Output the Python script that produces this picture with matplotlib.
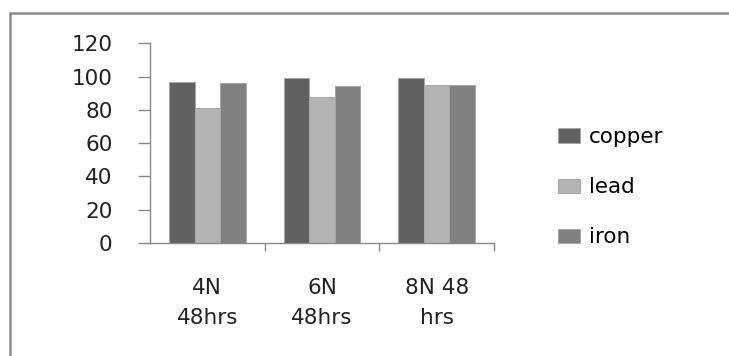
import numpy as np
import matplotlib
matplotlib.use("Agg")
import matplotlib.pyplot as plt
from matplotlib.patches import Rectangle

# -----------------------------
# Data
# -----------------------------
categories = ["4N\n48hrs", "6N\n48hrs", "8N 48\nhrs"]
copper = [97, 99, 99]
lead = [81, 87.5, 95]
iron = [96, 94.5, 95]
series_names = ["copper", "lead", "iron"]
colors = ["#616161", "#b3b3b3", "#808080"]

plt.rcParams['font.family'] = ['DejaVu Sans']

fig = plt.figure(figsize=(7.29, 3.56), dpi=100)
ax = fig.add_axes([0.2058, 0.3174, 0.4718, 0.5607])

# -----------------------------
# Bars
# -----------------------------
x = np.arange(len(categories))
w = 0.223
for i, (vals, name, c) in enumerate(zip([copper, lead, iron], series_names, colors)):
    ax.bar(x + (i - 1) * w, vals, width=w, color=c, edgecolor="#a8a8a8",
           linewidth=0.7, label=name)

ax.set_xlim(-0.5, len(categories) - 0.5)
ax.set_ylim(0, 120)
ax.set_yticks(range(0, 121, 20))

# category labels centred, tick marks at the boundaries
ax.set_xticks(x)
ax.set_xticklabels(categories, fontsize=15.5, color="#222222", linespacing=1.65)
ax.tick_params(axis="x", which="major", length=0, pad=25)
ax.set_xticks(np.arange(0.5, len(categories) - 0.5 + 0.01, 1.0), minor=True)
ax.tick_params(axis="x", which="minor", length=6, width=1, color="#888888", direction="out")

ax.tick_params(axis="y", labelsize=15.5, labelcolor="#222222", length=9,
               width=1, color="#888888", pad=18)

for s in ["top", "right"]:
    ax.spines[s].set_visible(False)
for s in ["left", "bottom"]:
    ax.spines[s].set_color("#888888")
    ax.spines[s].set_linewidth(1)

# -----------------------------
# Legend
# -----------------------------
ax.legend(loc="center left", bbox_to_anchor=(0.765, 0.474),
          bbox_transform=fig.transFigure, frameon=False, fontsize=15.5,
          handlelength=1.05, handleheight=0.65, handletextpad=0.4,
          labelspacing=1.4, borderpad=0, borderaxespad=0)

# outer chart frame (cut off at right and bottom like the source image)
fig.patches.append(Rectangle((10 / 729, -0.1), 1.2, 1 - 12.7 / 356 + 0.1,
                             transform=fig.transFigure, fill=False,
                             edgecolor="#8c8c8c", linewidth=1.8, clip_on=False))

fig.savefig("out.png", dpi=100)
